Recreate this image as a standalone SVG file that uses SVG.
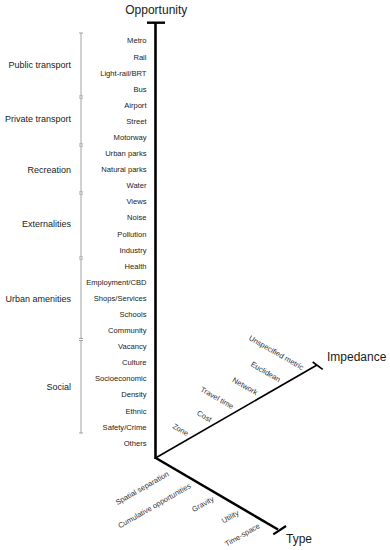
<svg xmlns="http://www.w3.org/2000/svg" width="390" height="550" viewBox="0 0 390 550">
<style>
text{font-family:"Liberation Sans",Arial,sans-serif;fill:#1a1a1a}
.ttl{font-size:12px}
.grp{font-size:9px;text-anchor:end}
.itm{font-size:7.6px;text-anchor:end;fill:#222}
.rot{font-size:7.5px;text-anchor:end;fill:#333}
.br{stroke:#8a8a8a;stroke-width:0.8;fill:none}
.ax{stroke:#000;fill:none;stroke-linecap:butt}
</style>
<rect width="390" height="550" fill="#fff"/>
<g id="axes">
<line class="ax" x1="155.5" y1="22.5" x2="155.5" y2="459" stroke-width="2.6"/>
<line class="ax" x1="147" y1="22.7" x2="165" y2="22.7" stroke-width="2.4"/>
<line class="ax" x1="155.5" y1="458" x2="317" y2="365" stroke-width="1.6"/>
<line class="ax" x1="312.7" y1="362" x2="322.7" y2="369.3" stroke-width="1.6"/>
<line class="ax" x1="155" y1="457.5" x2="278" y2="529.5" stroke-width="2.5"/>
<line class="ax" x1="273.3" y1="534.3" x2="286" y2="526" stroke-width="2.2"/>
</g>
<g id="axis-labels">
<text class="ttl" x="156.3" y="14" text-anchor="middle">Opportunity</text>
<text class="ttl" x="327" y="361">Impedance</text>
<text class="ttl" x="286" y="543">Type</text>
</g>
<g id="brackets">
<path class="br" d="M81 33V96M79 33H83M79 96H83"/>
<path class="br" d="M81 98V144M79 98H83M79 144H83"/>
<path class="br" d="M81 146V192M79 146H83M79 192H83"/>
<path class="br" d="M81 194V257M79 194H83M79 257H83"/>
<path class="br" d="M81 259V338.5M79 259H83M79 338.5H83"/>
<path class="br" d="M81 340.5V433M79 340.5H83M79 433H83"/>
</g>
<g id="groups">
<text class="grp" x="71" y="67.5">Public transport</text>
<text class="grp" x="71" y="121.5">Private transport</text>
<text class="grp" x="71" y="172.5">Recreation</text>
<text class="grp" x="71" y="226.5">Externalities</text>
<text class="grp" x="71" y="301.5">Urban amenities</text>
<text class="grp" x="71" y="390">Social</text>
</g>
<g id="opportunity-items">
<text class="itm" x="146.5" y="43.4">Metro</text>
<text class="itm" x="146.5" y="59.5">Rail</text>
<text class="itm" x="146.5" y="75.6">Light-rail/BRT</text>
<text class="itm" x="146.5" y="91.7">Bus</text>
<text class="itm" x="146.5" y="107.8">Airport</text>
<text class="itm" x="146.5" y="123.9">Street</text>
<text class="itm" x="146.5" y="140">Motorway</text>
<text class="itm" x="146.5" y="156">Urban parks</text>
<text class="itm" x="146.5" y="172.1">Natural parks</text>
<text class="itm" x="146.5" y="188.2">Water</text>
<text class="itm" x="146.5" y="204.3">Views</text>
<text class="itm" x="146.5" y="220.4">Noise</text>
<text class="itm" x="146.5" y="236.5">Pollution</text>
<text class="itm" x="146.5" y="252.6">Industry</text>
<text class="itm" x="146.5" y="268.7">Health</text>
<text class="itm" x="146.5" y="284.8">Employment/CBD</text>
<text class="itm" x="146.5" y="300.9">Shops/Services</text>
<text class="itm" x="146.5" y="317">Schools</text>
<text class="itm" x="146.5" y="333">Community</text>
<text class="itm" x="146.5" y="349.1">Vacancy</text>
<text class="itm" x="146.5" y="365.2">Culture</text>
<text class="itm" x="146.5" y="381.3">Socioeconomic</text>
<text class="itm" x="146.5" y="397.4">Density</text>
<text class="itm" x="146.5" y="413.5">Ethnic</text>
<text class="itm" x="146.5" y="429.6">Safety/Crime</text>
<text class="itm" x="146.5" y="445.7">Others</text>
</g>
<g id="impedance-items">
<text class="rot" transform="translate(186.7 436.3) rotate(30)">Zone</text>
<text class="rot" transform="translate(209.7 422.3) rotate(30)">Cost</text>
<text class="rot" transform="translate(231.7 409.3) rotate(30)">Travel time</text>
<text class="rot" transform="translate(255.7 395.3) rotate(30)">Network</text>
<text class="rot" transform="translate(278.7 382.3) rotate(30)">Euclidean</text>
<text class="rot" transform="translate(301.7 370.3) rotate(30)">Unspecified metric</text>
</g>
<g id="type-items">
<text class="rot" transform="translate(169.4 475.3) rotate(-30)">Spatial separation</text>
<text class="rot" transform="translate(191.4 487.3) rotate(-30)">Cumulative opportunities</text>
<text class="rot" transform="translate(214.4 500.3) rotate(-30)">Gravity</text>
<text class="rot" transform="translate(239.4 514.3) rotate(-30)">Utility</text>
<text class="rot" transform="translate(260.4 527.3) rotate(-30)">Time-space</text>
</g>
</svg>
